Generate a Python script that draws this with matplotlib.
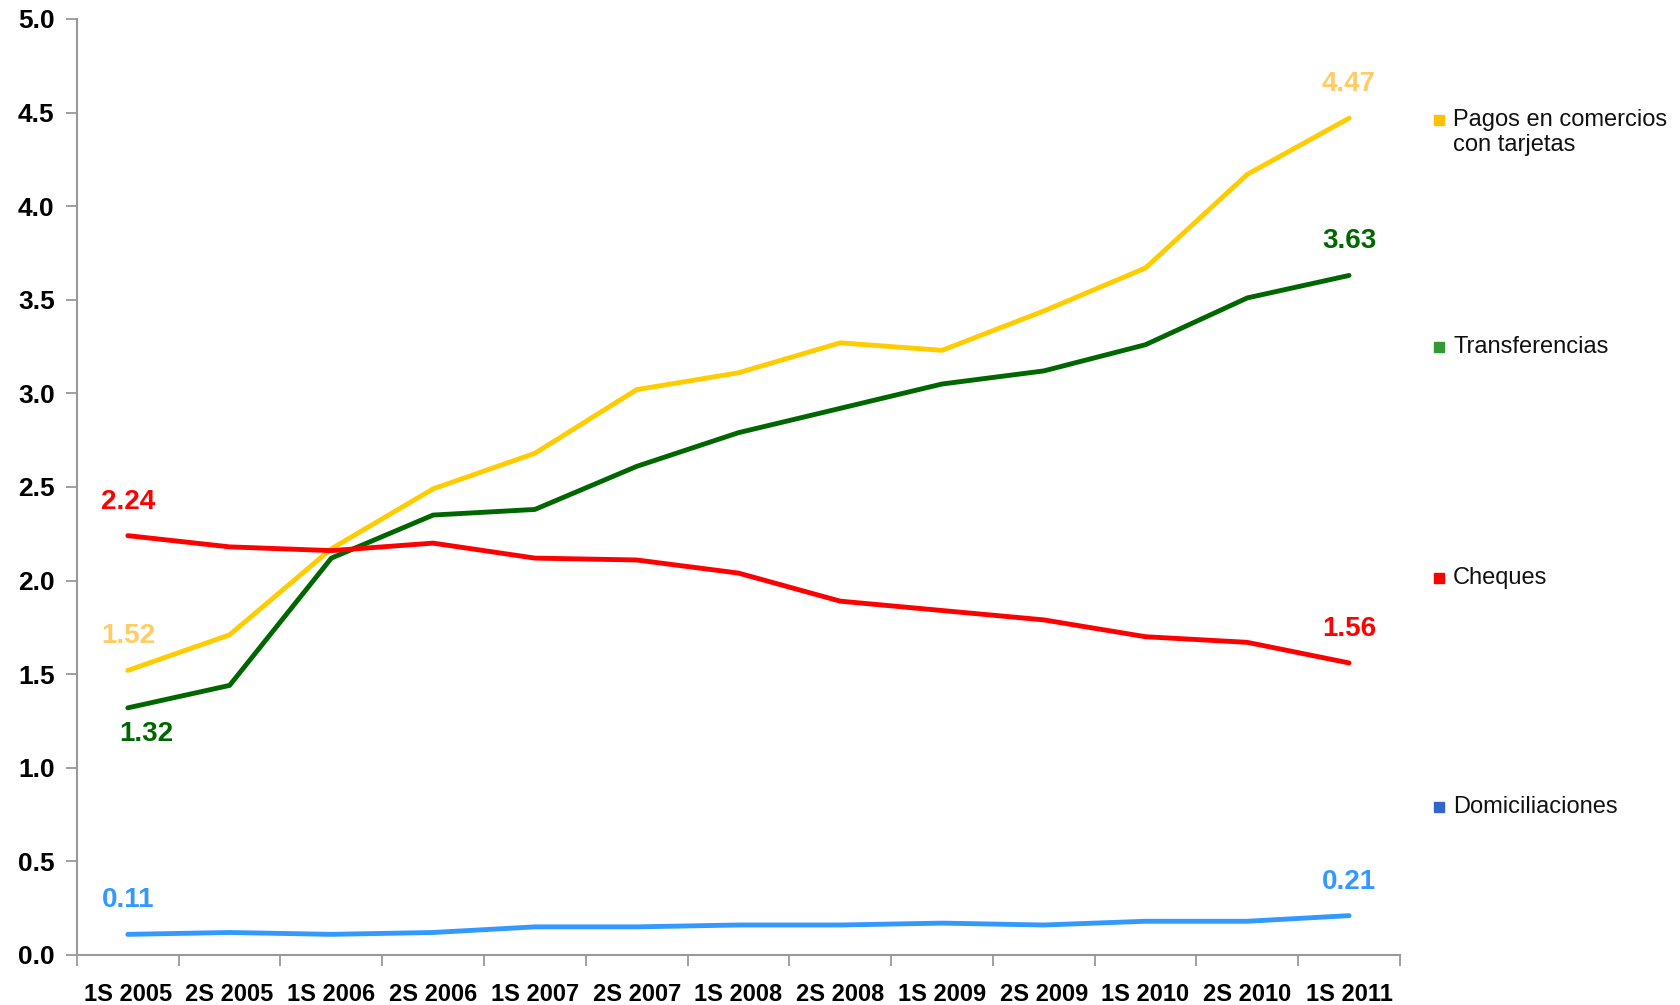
import matplotlib
matplotlib.use("Agg")
import matplotlib.pyplot as plt
from matplotlib.lines import Line2D
import numpy as np

plt.rcParams["font.family"] = ["Liberation Sans", "DejaVu Sans"]

periods = ["1S 2005", "2S 2005", "1S 2006", "2S 2006", "1S 2007", "2S 2007",
           "1S 2008", "2S 2008", "1S 2009", "2S 2009", "1S 2010", "2S 2010",
           "1S 2011"]

tarjetas = [1.52, 1.71, 2.17, 2.49, 2.68, 3.02, 3.11, 3.27, 3.23, 3.44, 3.67, 4.17, 4.47]
transferencias = [1.32, 1.44, 2.12, 2.35, 2.38, 2.61, 2.79, 2.92, 3.05, 3.12, 3.26, 3.51, 3.63]
cheques = [2.24, 2.18, 2.16, 2.20, 2.12, 2.11, 2.04, 1.89, 1.84, 1.79, 1.70, 1.67, 1.56]
domiciliaciones = [0.11, 0.12, 0.11, 0.12, 0.15, 0.15, 0.16, 0.16, 0.17, 0.16, 0.18, 0.18, 0.21]

legend_names = ["Pagos en comercios\ncon tarjetas", "Transferencias",
                "Cheques", "Domiciliaciones"]

fig = plt.figure(figsize=(16.8, 10.05), dpi=100)
ax = fig.add_axes([0.0458, 0.0498, 0.7875, 0.9313])

x = np.arange(len(periods))
# (values, line colour, label colour, legend marker colour)
series = [
    (tarjetas, "#FFCC00", "#FFCC66", "#FFC000"),
    (transferencias, "#006600", "#006600", "#339933"),
    (cheques, "#FF0000", "#FF0000", "#FF0000"),
    (domiciliaciones, "#3399FF", "#3399FF", "#3366CC"),
]
for vals, c, _, _ in series:
    ax.plot(x, vals, color=c, lw=3.5, solid_capstyle="round")

# end labels
for i, (vals, c, lc, _) in enumerate(series):
    for idx in (0, len(vals) - 1):
        dx, dy = 0, 24.5
        if i == 1 and idx == 0:
            dx, dy = 13, -19
        ax.annotate(f"{vals[idx]:.2f}", xy=(x[idx], vals[idx]),
                    xytext=(dx, dy), textcoords="offset points",
                    ha="center", va="center", color=lc,
                    fontsize=20, fontweight="bold")

ax.set_xlim(-0.5, len(periods) - 0.5)
ax.set_ylim(0, 5.0)
yt = np.arange(0, 5.01, 0.5)
ax.set_yticks(yt)
ax.set_yticklabels([f"{v:.1f}" for v in yt], fontsize=19, fontweight="bold")
ax.set_xticks(np.arange(-0.5, len(periods), 1.0))
ax.set_xticklabels([])
ax.set_xticks(x, minor=True)
ax.set_xticklabels(periods, minor=True, fontsize=17, fontweight="bold")
ax.tick_params(axis="x", which="major", length=8, width=1.3, color="#999999",
               direction="out")
ax.tick_params(axis="x", which="minor", length=0, pad=20)
ax.tick_params(axis="y", length=8, width=1.3, color="#999999", direction="out",
               pad=8)

for s in ("top", "right"):
    ax.spines[s].set_visible(False)
for s in ("left", "bottom"):
    ax.spines[s].set_color("#999999")
    ax.spines[s].set_linewidth(1.5)

# legend as separate entries on the right
leg_y = [0.881, 0.655, 0.425, 0.197]
for (vals, c, lc, mc), name, ly in zip(series, legend_names, leg_y):
    fig.add_artist(Line2D([0.8565], [ly], marker="s", markersize=7,
                          color=mc, linestyle="none",
                          transform=fig.transFigure))
    fig.text(0.865, ly + 0.0105, name, color="#111111", fontsize=17,
             va="top", ha="left", linespacing=1.2)

fig.savefig("out.png", dpi=100)
